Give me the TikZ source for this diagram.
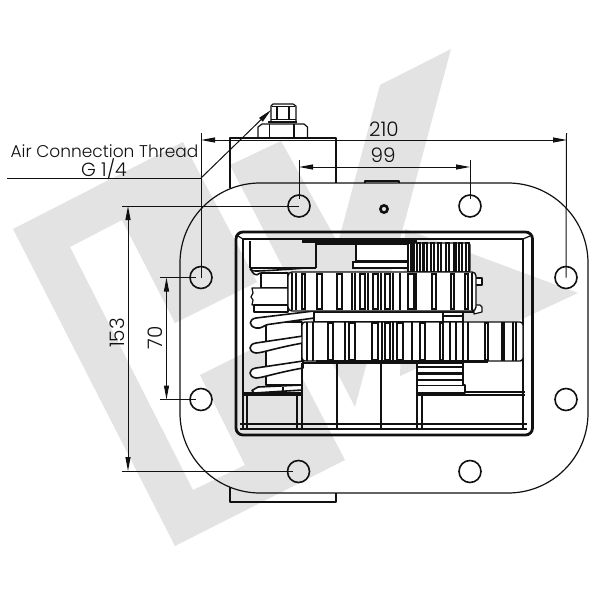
\documentclass[tikz,border=0pt]{standalone}
\usepackage{fontspec}
\setmainfont{Poppins}[UprightFont={* Light}]
\usetikzlibrary{arrows.meta}
\definecolor{wm}{HTML}{E3E3E3}
\definecolor{ink}{HTML}{111111}
\tikzset{
  art/.style={draw=ink,line width=1.2pt,line join=round},
  heavy/.style={draw=ink,line width=2.2pt},
  dim/.style={draw=ink,line width=1pt},
  dimarrow/.style={dim,{Triangle[length=14pt,width=5pt,fill=ink]}-{Triangle[length=14pt,width=5pt,fill=ink]}},
  hole/.style={circle,draw=ink,line width=1.6pt,minimum size=22pt,inner sep=0pt},
  dimtext/.style={font=\fontsize{20}{22}\selectfont,text=ink,inner sep=0pt},
  groove/.style={draw=ink,line width=1.2pt,fill=white},
  coil/.style={draw=ink,line width=1.6pt,fill=white,line join=round},
}
\begin{document}
\begin{tikzpicture}[x=1pt,y=-1pt]
\useasboundingbox (0,0) rectangle (600,600);
\fill[white] (0,0) rectangle (600,600);
% watermark
\fill[wm] (13,229)--(183,142)--(257,282)--(175,323)--(122,220)--(70,247)--(193,490)--(245,465)--(200,375)--(280,335)--(345,460)--(175,546)--cycle;
\fill[wm] (230,165)--(281,141)--(338,243)--(380,85)--(451,49)--(355,407)--cycle;
\fill[wm] (405,229)--(578,293)--(503,328)--(400,376)--cycle;
% rear housing
\draw[art] (230,188)--(230,138)--(336,138)--(336,183);
\draw[art] (230,487)--(230,502)--(336,502)--(336,493);
% fitting
\draw[art] (258,138)--(258,127)--(262,124)--(304,124)--(307.5,127)--(307.5,138);
\draw[art] (269.5,138)--(269.5,124) (294,138)--(294,124);
\draw[art,line width=1.6pt] (268,122)--(297,122);
\draw[art] (271,121)--(271,106)--(273,104)--(293,104)--(296,106)--(296,121);
\draw[art] (272,106.5)--(295,106.5) (277,107)--(277,119) (289,107)--(289,119);
\draw[art] (271,119.5)--(296,119.5);
% flange
\draw[art] (180,263) arc[start angle=180,end angle=270,x radius=80,y radius=80] -- (508,183) arc[start angle=270,end angle=360,x radius=80,y radius=80] -- (588,413) arc[start angle=0,end angle=90,x radius=80,y radius=80] -- (260,493) arc[start angle=90,end angle=180,x radius=80,y radius=80] -- cycle;
\draw[art] (365,183)--(365,181)--(399,181)--(399,183);
% small port
\draw[draw=ink,line width=2.6pt] (384,209) circle[radius=3.6];
% window
\draw[draw=ink,line width=2.8pt,rounded corners=7pt] (236,232) rectangle (532.5,435);
\draw[art] (243,239)--(523,239) (243,239)--(243,428) (523,239)--(523,428);
\draw[art] (240,424)--(527,424) (240,429)--(527,429);
\draw[art] (238,236)--(243,239) (530,236)--(523,239);
% upper left block
\draw[art] (250,241) -- (250,268) (316,268) -- (316,241);
\draw[heavy] (250,268)--(316,268);
\draw[heavy] (302,241.5)--(417,241.5);
\draw[art] (316,244)--(356,244);
% top shaft
\draw[art,fill=white] (356,244) rectangle (408,262);
\draw[draw=ink,line width=1.8pt,fill=white] (353,262) rectangle (412,268);
\draw[heavy] (356,261)--(408,261);
% top gear
\draw[art,fill=white,rounded corners=2pt] (408,243) rectangle (470,272);
\foreach \a/\b in {408/411,412/414,417/420,423/427,431/434,438/441,446/449,454/456,459/462,466/469}
  \draw[groove] (\a,243) rectangle (\b,272);
\draw[heavy] (466,243)--(466,272);
\draw[heavy] (424,243)--(424,272);
% spring cylinder & body
\draw[art,fill=white] (266,322) rectangle (302,385);
\draw[art,fill=white] (261,273) rectangle (288,288);
\draw[art,fill=white] (252,288) -- (288,288) -- (288,305) -- (252,305) -- (253,300) -- (251,297) -- (253,293) -- cycle;
\draw[art,fill=white] (254,305) rectangle (288,312);
% spring coils
\draw[coil,fill=none] (305,268) .. controls (280,270) and (262,271) .. (256,271) .. controls (252,271) and (249,270) .. (251,268);
\draw[coil,fill=none] (251,268) .. controls (252,274) and (256,277) .. (260,273);
\draw[coil] (314,311) -- (256,318) .. controls (249,319) and (248,326) .. (256,328) .. controls (262,329) and (264,325) .. (268,324.5) -- (314,318) -- cycle;
\draw[coil] (303,336) -- (256,343) .. controls (248,344) and (248,352) .. (256,353) .. controls (262,353) and (275,348) .. (303,343) -- cycle;
\draw[coil] (303,361) -- (256,368) .. controls (248,369) and (248,377) .. (256,378) .. controls (262,378) and (275,373) .. (303,368) -- cycle;
\draw[coil] (302,385) -- (258,387) -- (252,390.5) -- (254,393) -- (302,390) -- cycle;
\draw[art] (283,387)--(283,392);
% lower left block
\draw[art] (243,395)--(302,395) (247,395)--(247,428) (297,395)--(297,428);
\draw[heavy] (243,393.5)--(302,393.5);
% lower blocks
\draw[art] (302,363)--(302,429) (337,363)--(337,429) (381,363)--(381,429) (417,392)--(417,429);
\draw[art] (302,363)--(417,363);
\draw[art] (422,395)--(422,429) (465,392)--(525,392) (417,395)--(525,395);
% rung block
\draw[art,fill=white] (417,363) -- (463,363) -- (463,385) -- (465,385) -- (465,393) -- (417,393) -- cycle;
\draw[heavy] (417,367)--(463,367) (417,373.5)--(463,373.5) (417,380)--(463,380);
\draw[art] (417,385.5)--(465,385.5);
% bar between gears
\draw[art,fill=white] (314,312) rectangle (443,322);
\draw[art,fill=white] (443,312) rectangle (463,322);
\draw[art] (443,316)--(463,316);
\draw[art] (463,312)--(475,312);
% lugs
\draw[art,fill=white] (474,278) rectangle (482,285);
\draw[art,fill=white] (474,305) -- (480,305) -- (482,307) -- (482,312) -- (474,314) -- cycle;
% middle gear
\draw[art,line width=1.4pt,fill=white,rounded corners=4pt] (288,272) rectangle (476,311);
\foreach \a/\b in {302/305,317/322,337/342,360/365,373/378,385/390,408/414,432/436,451/454,465/468}
  \draw[groove] (\a,274) rectangle (\b,309);
\draw[draw=ink,line width=2.4pt] (292,273)--(292,310) (355,273)--(355,310) (416,273)--(416,310);
\draw[art] (296,273)--(296,310) (352,273)--(352,310) (368,273)--(368,310) (381,273)--(381,310) (393,273)--(393,310) (400,273)--(400,310) (472,273)--(472,310);
% lower gear
\draw[art,line width=1.4pt,fill=white,rounded corners=3pt] (302,322) rectangle (523,361);
\foreach \a/\b in {328/333,349/355,372/378,385/390,397/403,420/425,440/443,485/488,502/504}
  \draw[groove] (\a,323) rectangle (\b,360);
\draw[draw=ink,line width=2.4pt] (307,322)--(307,361) (313,322)--(313,361) (463,322)--(463,361) (456,322)--(456,361) (516,322)--(516,361);
\draw[art] (345,322)--(345,361) (382,322)--(382,361) (393,322)--(393,361) (412,322)--(412,361) (450,322)--(450,361) (468,322)--(468,361) (513,322)--(513,361);
\draw[heavy] (316,361.5)--(488,361.5);
% holes
\node[hole] (h1) at (299,206) {};
\node[hole] (h2) at (470,206) {};
\node[hole] (h3) at (201,277.5) {};
\node[hole] (h4) at (566,277.5) {};
\node[hole] (h5) at (201,399.5) {};
\node[hole] (h6) at (566,399.5) {};
\node[hole] (h7) at (298.5,471.5) {};
\node[hole] (h8) at (470,471.5) {};
% dimension anchors
\coordinate (a210l) at (201,140);
\coordinate (a210r) at (567,140);
\coordinate (e210l) at (201,133);
\coordinate (e210r) at (566.5,133);
\coordinate (a99l) at (299,167);
\coordinate (a99r) at (470,167);
\coordinate (e99l) at (299,160);
\coordinate (e99r) at (470,160);
\coordinate (a153t) at (128,206);
\coordinate (a153b) at (128,471);
\coordinate (e153t) at (122,206);
\coordinate (e153b) at (122,471);
\coordinate (a70t) at (166.5,277.5);
\coordinate (a70b) at (166.5,399.5);
\coordinate (e70t) at (160,277.5);
\coordinate (e70b) at (160,399.5);
\coordinate (la) at (7,178);
\coordinate (lb) at (201,178);
\coordinate (lc) at (271,110);
% dimension lines
\draw[dim] (e210l)--(h3.center);
\draw[dim] (e210r)--(h4.center);
\draw[dim] (e99l)--(299,199);
\draw[dim] (e99r)--(470,199);
\draw[dim] (e153t)--(h1.center);
\draw[dim] (e153b)--(293,471);
\draw[dim] (e70t)--(196,277.5);
\draw[dim] (e70b)--(196,399.5);
\draw[dimarrow] (a210l)--(a210r);
\draw[dimarrow] (a99l)--(a99r);
\draw[dimarrow] (a153t)--(a153b);
\draw[dimarrow] (a70t)--(a70b);
\draw[dim] (la)--(lb);
\draw[dim,-{Triangle[length=14pt,width=5pt,fill=ink]}] (lb)--(lc);
% labels
\node[dimtext] (t210) at (384,129.5) {210};
\node[dimtext] (t99) at (383,155.5) {99};
\node[dimtext,rotate=90] (t153) at (117,333) {153};
\node[dimtext,rotate=90] (t70) at (155,338) {70};
\node[dimtext,font=\fontsize{17}{20}\selectfont] (tair) at (104.5,151.5) {Air Connection Thread};
\node[dimtext,font=\fontsize{19}{20}\selectfont] (tg) at (104,169) {G 1/4};
\end{tikzpicture}
\end{document}
